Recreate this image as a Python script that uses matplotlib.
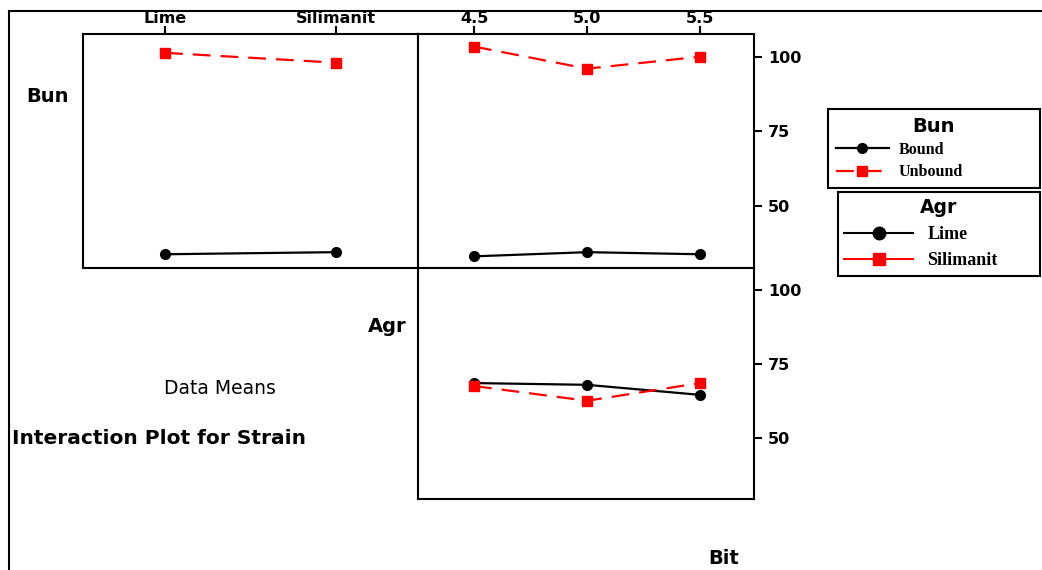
import matplotlib
matplotlib.use("Agg")
import matplotlib.pyplot as plt
from matplotlib.lines import Line2D

# data (means of Strain)
agr_levels = ["Lime", "Silimanit"]
bit_levels = [4.5, 5.0, 5.5]
bun_levels = ["Bound", "Unbound"]

bun_by_agr_bound = [33.9, 34.6]
bun_by_agr_unbound = [101.3, 98.0]
bun_by_bit_bound = [33.2, 34.6, 33.9]
bun_by_bit_unbound = [103.4, 96.0, 100.0]
agr_by_bit_lime = [68.6, 68.0, 64.6]
agr_by_bit_silimanit = [67.6, 62.6, 68.6]

y_ticks = [50, 75, 100]

W, H = 1042, 570


def box(x0, y0, x1, y1):
    # pixel box -> figure fraction rect
    return [x0 / W, 1 - y1 / H, (x1 - x0) / W, (y1 - y0) / H]


fig = plt.figure(figsize=(W / 100, H / 100), dpi=100)

blk = dict(color="black", marker="o", markersize=7, linewidth=1.6, linestyle="-")
red = dict(color="red", marker="s", markersize=7, linewidth=1.6, linestyle=(0, (8, 4.5)))

ax_tl = fig.add_axes(box(83, 34, 418, 268))
ax_tr = fig.add_axes(box(418, 34, 754, 268))
ax_br = fig.add_axes(box(418, 268, 754, 499))

# Bun x Agr
xpos = list(range(len(agr_levels)))
l_bound, = ax_tl.plot(xpos, bun_by_agr_bound, **blk)
l_unbound, = ax_tl.plot(xpos, bun_by_agr_unbound, **red)
ax_tl.set_xlim(-0.48, 1.48)
ax_tl.set_xticks(xpos)
ax_tl.set_xticklabels(agr_levels)
ax_tl.set_yticks([])

# Bun x Bit
ax_tr.plot(bit_levels, bun_by_bit_bound, **blk)
ax_tr.plot(bit_levels, bun_by_bit_unbound, **red)
ax_tr.set_xlim(4.252, 5.739)
ax_tr.set_xticks(bit_levels)
ax_tr.set_xticklabels([f"{b:.1f}" for b in bit_levels])

# Agr x Bit
ax_br.plot(bit_levels, agr_by_bit_lime, **blk)
ax_br.plot(bit_levels, agr_by_bit_silimanit, **red)
ax_br.set_xlim(4.252, 5.739)
ax_br.set_xticks([])

for ax in (ax_tl, ax_tr, ax_br):
    ax.set_ylim(29.3, 107.6)
    for s in ax.spines.values():
        s.set_linewidth(1.5)
    ax.tick_params(width=1.5, length=6)

for ax in (ax_tl, ax_tr):
    ax.xaxis.tick_top()
    ax.tick_params(axis="x", labelsize=11.5, pad=0)
    for t in ax.get_xticklabels():
        t.set_fontweight("bold")

for ax in (ax_tr, ax_br):
    ax.yaxis.tick_right()
    ax.set_yticks(y_ticks)
    ax.tick_params(axis="y", labelsize=11.5, pad=4)
    for t in ax.get_yticklabels():
        t.set_fontweight("bold")

# outer frame
fig.add_artist(Line2D([9 / W, 1], [1 - 11 / H, 1 - 11 / H], color="black", lw=1.5))
fig.add_artist(Line2D([9 / W, 9 / W], [0, 1 - 11 / H], color="black", lw=1.5))

# labels
fig.text(26 / W, 1 - 97 / H, "Bun", fontsize=14, fontweight="bold", va="center")
fig.text(407 / W, 1 - 327 / H, "Agr", fontsize=14, fontweight="bold", va="center", ha="right")
fig.text(220 / W, 1 - 389 / H, "Data Means", fontsize=13.5, va="center", ha="center")
fig.text(12 / W, 1 - 439 / H, "Interaction Plot for Strain", fontsize=14.5,
         fontweight="bold", va="center")
fig.text(724 / W, 1 - 558 / H, "Bit", fontsize=14, fontweight="bold", va="center", ha="center")

# legends
serif = {"family": "Liberation Serif", "weight": "bold", "size": 11.5}
leg1 = fig.legend([l_bound, l_unbound], bun_levels, loc="upper left",
                  bbox_to_anchor=(828 / W, 1 - 183 / H, 212 / W, 74 / H),
                  mode="expand", borderaxespad=0, fancybox=False, edgecolor="black",
                  framealpha=1, prop=serif, handlelength=3.3, labelspacing=0.38,
                  borderpad=0.5, handletextpad=0.6, title="Bun",
                  title_fontproperties={"weight": "bold", "size": 14})
leg1.get_frame().set_linewidth(1.5)

h_lime = Line2D([], [], color="black", marker="o", markersize=9, linewidth=1.5)
h_sil = Line2D([], [], color="red", marker="s", markersize=9, linewidth=1.5)
serif2 = {"family": "Liberation Serif", "weight": "bold", "size": 13}
leg2 = fig.legend([h_lime, h_sil], agr_levels, loc="upper left",
                  bbox_to_anchor=(838 / W, 1 - 277 / H, 202 / W, 85 / H),
                  mode="expand", borderaxespad=0, fancybox=False, edgecolor="black",
                  framealpha=1, prop=serif2, handlelength=3.8, labelspacing=0.5,
                  borderpad=0.35, handletextpad=0.8, title="Agr",
                  title_fontproperties={"weight": "bold", "size": 13.5})
leg2.get_frame().set_linewidth(1.5)

fig.savefig("out.png", dpi=100)
